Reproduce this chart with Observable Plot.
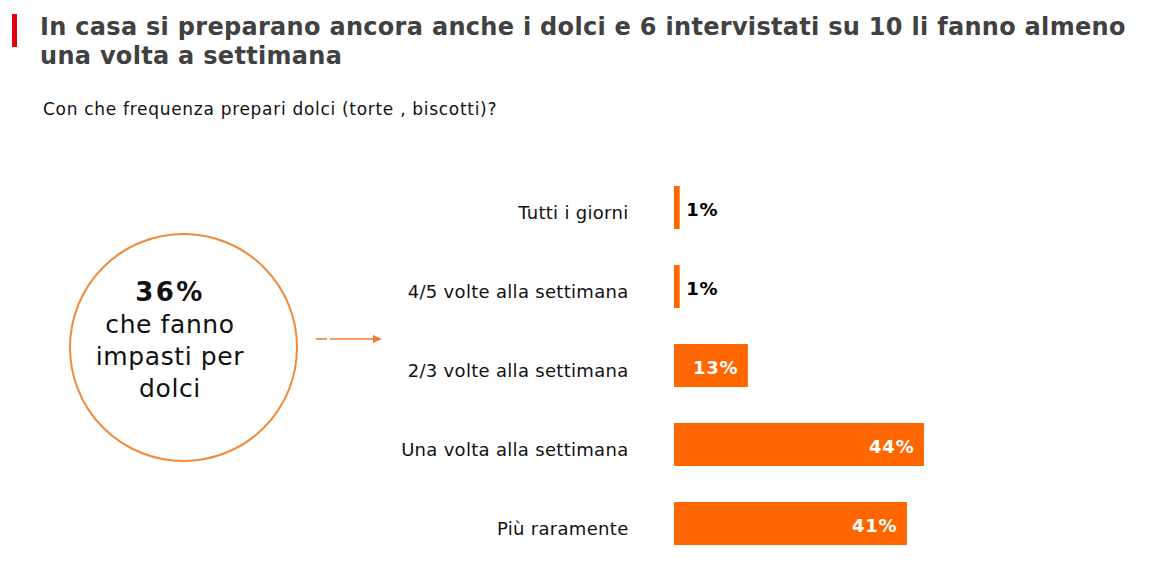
<!DOCTYPE html>
<html>
<head>
<meta charset="utf-8">
<script src="https://cdn.jsdelivr.net/npm/d3@7"></script>
<script src="https://cdn.jsdelivr.net/npm/@observablehq/plot@0.6"></script>
<style>
  html, body { margin: 0; padding: 0; background: #fff; }
  body { width: 1149px; height: 584px; position: relative; overflow: hidden; font-family: "DejaVu Sans", Verdana, sans-serif; }
  .redbar { position: absolute; left: 12px; top: 14px; width: 5px; height: 33px; background: #e3000f; }
  .title { position: absolute; left: 40px; top: 13px; font-size: 24px; letter-spacing: 0.3px; font-weight: bold; color: #414141; line-height: 29px; margin: 0; white-space: nowrap; }
  .subtitle { position: absolute; left: 43px; top: 99px; font-size: 17px; letter-spacing: 0.7px; color: #111; line-height: 20px; margin: 0; white-space: nowrap; }
  .circle { position: absolute; left: 69px; top: 233px; width: 225px; height: 225px; border: 2px solid #ef8a3a; border-radius: 50%; }
  .circletext { position: absolute; left: 70px; top: 276px; width: 200px; text-align: center; font-size: 25px; letter-spacing: 0.6px; line-height: 32px; color: #111; }
  .circletext b { font-weight: bold; font-size: 26px; letter-spacing: 2.5px; }
  #arrow { position: absolute; left: 0; top: 0; }
  #chart { position: absolute; left: 0; top: 140px; }
  #chart g[aria-label="y-axis tick label"] text { letter-spacing: 0.3px; }
  #chart .vlabel text { letter-spacing: 0.8px; }
</style>
</head>
<body>
<div class="redbar"></div>
<h1 class="title">In casa si preparano ancora anche i dolci e 6 intervistati su 10 li fanno almeno<br>una volta a settimana</h1>
<p class="subtitle">Con che frequenza prepari dolci (torte , biscotti)?</p>
<div class="circle"></div>
<div class="circletext"><b>36%</b><br>che fanno<br>impasti per<br>dolci</div>
<svg id="arrow" width="400" height="400">
  <line x1="316" y1="339" x2="374" y2="339" stroke="#f07a30" stroke-width="1.5" stroke-dasharray="11 3 100"></line>
  <polygon points="373,335 382,339 373,343" fill="#f07a30"></polygon>
</svg>
<div id="chart"></div>
<script>
const categories = ["Tutti i giorni", "4/5 volte alla settimana", "2/3 volte alla settimana", "Una volta alla settimana", "Più raramente"];
const values = [1, 1, 13, 44, 41];
const valueLabels = ["1%", "1%", "13%", "44%", "41%"];

const data = categories.map((c, i) => ({category: c, value: values[i], label: valueLabels[i]}));
const small = data.filter(d => d.value < 5);
const big = data.filter(d => d.value >= 5);

const chart = Plot.plot({
  width: 1149,
  height: 444,
  marginLeft: 674,
  marginRight: 225,
  marginTop: 8,
  marginBottom: 2,
  style: {fontFamily: "DejaVu Sans, Verdana, sans-serif", fontSize: "18px", color: "#111", background: "transparent"},
  x: {domain: [0, 44], axis: null},
  y: {domain: categories, padding: 0.46, label: null},
  marks: [
    Plot.axisY({tickSize: 0, tickPadding: 46, dy: 5, fontSize: 18, fill: "#111", label: null}),
    Plot.barX(data, {x: "value", y: "category", fill: "#ff6600"}),
    Plot.text(small, {x: "value", y: "category", text: "label", textAnchor: "start", dx: 6, dy: 2, fill: "#000", fontWeight: "bold", fontSize: 18, className: "vlabel"}),
    Plot.text(big, {x: "value", y: "category", text: "label", textAnchor: "end", dx: -10, dy: 2, fill: "#fff", fontWeight: "bold", fontSize: 18, className: "vlabel"})
  ]
});
document.getElementById("chart").appendChild(chart);
</script>
</body>
</html>
